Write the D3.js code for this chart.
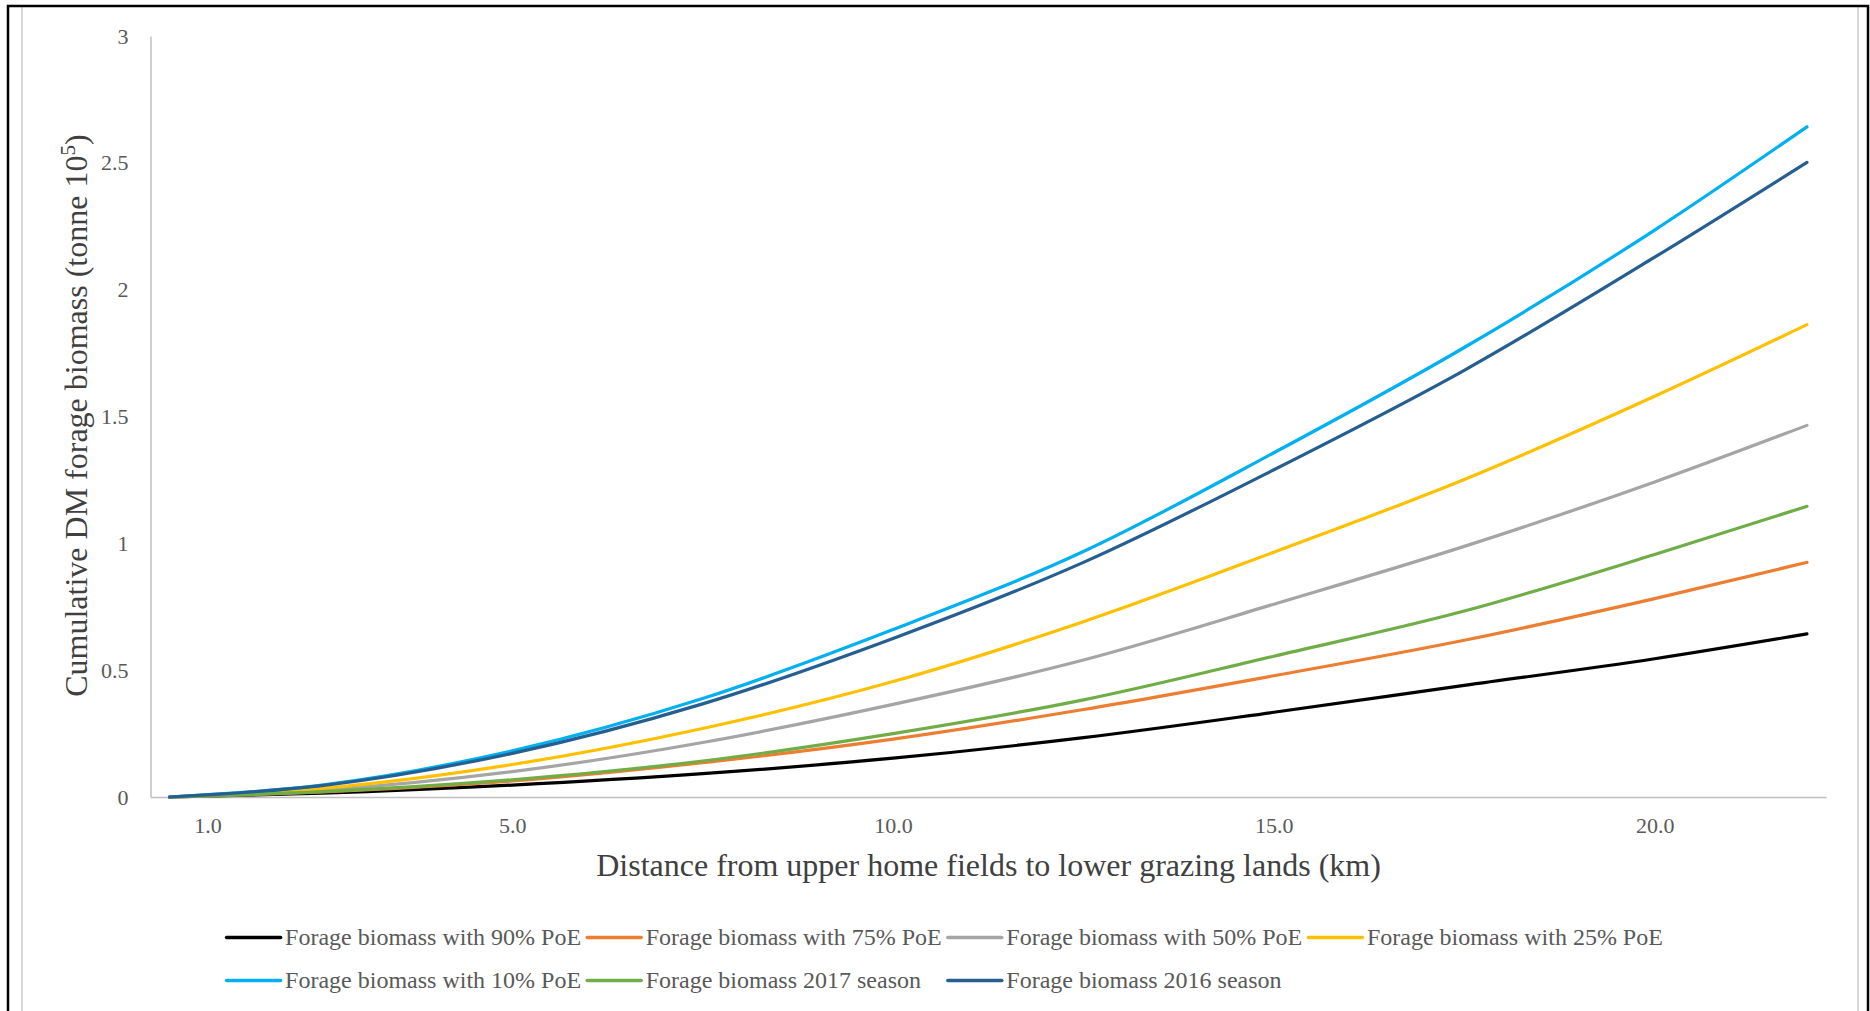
<!DOCTYPE html>
<html>
<head>
<meta charset="utf-8">
<script src="https://cdn.jsdelivr.net/npm/d3@7"></script>
<style>
  html, body { margin: 0; padding: 0; background: #fff; }
  svg { display: block; }
  text { font-family: "Liberation Serif", "Times New Roman", serif; }
</style>
</head>
<body>
<svg id="chart" width="1870" height="1011"></svg>
<script>
// ---- data ----
const distances = [0.5, 2.5, 5, 7.5, 10, 12.5, 15, 17.5, 20, 22];
const poe90 = [0, 0.015, 0.047, 0.092, 0.153, 0.234, 0.334, 0.440, 0.545, 0.643];
const poe75 = [0, 0.020, 0.063, 0.135, 0.228, 0.345, 0.478, 0.618, 0.782, 0.925];
const poe50 = [0, 0.027, 0.100, 0.215, 0.365, 0.540, 0.760, 0.988, 1.242, 1.465];
const poe25 = [0, 0.034, 0.128, 0.270, 0.455, 0.691, 0.965, 1.252, 1.580, 1.862];
const poe10 = [0, 0.047, 0.182, 0.388, 0.660, 0.968, 1.357, 1.772, 2.235, 2.642];
const season2017 = [0, 0.021, 0.068, 0.142, 0.250, 0.383, 0.555, 0.733, 0.956, 1.146];
const season2016 = [0, 0.045, 0.172, 0.367, 0.625, 0.925, 1.290, 1.682, 2.128, 2.502];

const seriesNames = [
  "Forage biomass with 90% PoE",
  "Forage biomass with 75% PoE",
  "Forage biomass with 50% PoE",
  "Forage biomass with 25% PoE",
  "Forage biomass with 10% PoE",
  "Forage biomass 2017 season",
  "Forage biomass 2016 season"
];
const seriesValues = [poe90, poe75, poe50, poe25, poe10, season2017, season2016];
const seriesColors = ["#000000", "#ED7D31", "#A5A5A5", "#FFC000", "#00B0F0", "#70AD47", "#255E91"];

const xTickValues = [1, 5, 10, 15, 20];
const yTickValues = [0, 0.5, 1, 1.5, 2, 2.5, 3];

const xTitle = "Distance from upper home fields to lower grazing lands (km)";

// ---- layout ----
const svg = d3.select("#chart");

// outer frames
svg.append("line").attr("x1", 22).attr("x2", 22).attr("y1", 7).attr("y2", 1011)
  .attr("stroke", "#d9d9d9").attr("stroke-width", 2);
svg.append("line").attr("x1", 1858).attr("x2", 1858).attr("y1", 7).attr("y2", 1011)
  .attr("stroke", "#d9d9d9").attr("stroke-width", 2);
svg.append("rect").attr("x", 8).attr("y", 6).attr("width", 1860).attr("height", 1030)
  .attr("fill", "none").attr("stroke", "#000").attr("stroke-width", 2.5);

const x = d3.scaleLinear().domain([0.25, 22.25]).range([150.5, 1826]);
const y = d3.scaleLinear().domain([0, 3]).range([797, 36]);

// axes
const xAxis = svg.append("g").attr("transform", `translate(0,${y(0)})`)
  .call(d3.axisBottom(x).tickValues(xTickValues).tickFormat(d3.format(".1f")).tickSize(0).tickPadding(0));
xAxis.select(".domain").attr("stroke", "#bfbfbf").attr("stroke-width", 1.5);
xAxis.selectAll(".tick text")
  .attr("y", 36).attr("dy", 0)
  .attr("fill", "#595959").style("font-size", "22px")
  .style("font-family", "'Liberation Serif', 'Times New Roman', serif");

const yAxis = svg.append("g").attr("transform", `translate(${x.range()[0]},0)`)
  .call(d3.axisLeft(y).tickValues(yTickValues).tickFormat(d3.format("")).tickSize(0).tickPadding(0));
yAxis.select(".domain").attr("stroke", "#bfbfbf").attr("stroke-width", 1.5);
yAxis.selectAll(".tick text")
  .attr("x", -22).attr("dy", "0.32em")
  .attr("fill", "#595959").style("font-size", "22px")
  .style("font-family", "'Liberation Serif', 'Times New Roman', serif");

// lines
const line = d3.line().x((d, i) => x(distances[i])).y(d => y(d)).curve(d3.curveMonotoneX);
svg.append("g").selectAll("path")
  .data(seriesValues)
  .join("path")
  .attr("d", d => line(d))
  .attr("fill", "none")
  .attr("stroke", (d, i) => seriesColors[i])
  .attr("stroke-width", 3.2)
  .attr("stroke-linejoin", "round")
  .attr("stroke-linecap", "round");

// axis titles
svg.append("text")
  .attr("x", 988.5).attr("y", 876)
  .attr("text-anchor", "middle")
  .attr("fill", "#404040").style("font-size", "32px")
  .text(xTitle);

const yt = svg.append("text")
  .attr("transform", "translate(87,415.6) rotate(-90)")
  .attr("text-anchor", "middle")
  .attr("fill", "#404040").style("font-size", "32px");
yt.append("tspan").text("Cumulative DM forage biomass (tonne 10");
yt.append("tspan").attr("dy", -12).style("font-size", "21px").text("5");
yt.append("tspan").attr("dy", 12).text(")");

// legend
const legendCols = 4;
const legendX0 = 226.6, legendColW = 360.6;
const legendY0 = 937.4, legendRowH = 43;
const leg = svg.append("g").selectAll("g")
  .data(seriesNames)
  .join("g")
  .attr("transform", (d, i) => `translate(${legendX0 + (i % legendCols) * legendColW},${legendY0 + Math.floor(i / legendCols) * legendRowH})`);
leg.append("line")
  .attr("x1", 0).attr("x2", 54).attr("y1", 0).attr("y2", 0)
  .attr("stroke", (d, i) => seriesColors[i])
  .attr("stroke-width", 3.5).attr("stroke-linecap", "round");
leg.append("text")
  .attr("x", 58.5).attr("y", 7.5)
  .attr("fill", "#595959").style("font-size", "24px")
  .text(d => d);
</script>
</body>
</html>
